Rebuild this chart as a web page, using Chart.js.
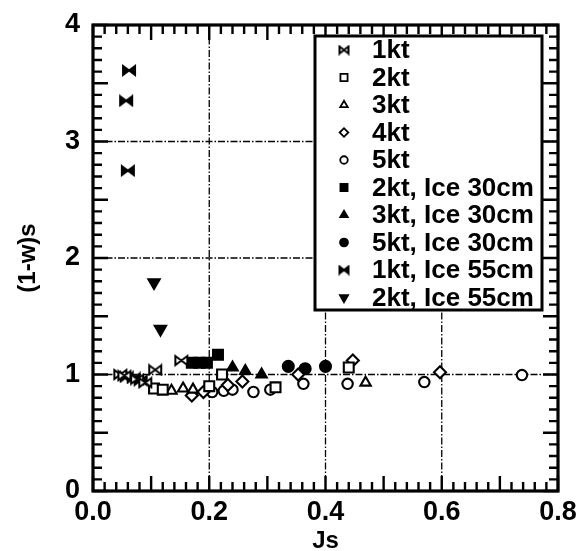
<!DOCTYPE html>
<html>
<head>
<meta charset="utf-8">
<script src="https://cdn.jsdelivr.net/npm/chart.js@4.4.1/dist/chart.umd.min.js"></script>
<style>
  html,body{margin:0;padding:0;background:#fff}
</style>
</head>
<body>
<canvas id="c" width="581" height="551"></canvas>
<script>
// ── Data (Js, (1-w)s) per condition ─────────────────────────────────────────
const kt1      = [[0.047,1.0],[0.054,0.99],[0.076,0.96],[0.09,0.93],[0.107,1.04],[0.152,1.12]];
const kt2      = [[0.105,0.88],[0.12,0.87],[0.2,0.9],[0.222,1.0],[0.314,0.89],[0.44,1.06]];
const kt3      = [[0.135,0.86],[0.155,0.88],[0.172,0.87],[0.469,0.93]];
const kt4      = [[0.17,0.82],[0.19,0.85],[0.232,0.91],[0.257,0.94],[0.353,1.0],[0.447,1.12],[0.597,1.02]];
const kt5      = [[0.205,0.85],[0.225,0.86],[0.24,0.87],[0.276,0.85],[0.305,0.87],[0.362,0.92],[0.438,0.92],[0.57,0.935],[0.738,0.995]];
const kt2ice30 = [[0.17,1.1],[0.183,1.1],[0.196,1.1],[0.215,1.17]];
const kt3ice30 = [[0.24,1.06],[0.262,1.03],[0.29,1.0]];
const kt5ice30 = [[0.336,1.07],[0.365,1.05],[0.4,1.07]];
const kt1ice55 = [[0.062,3.61],[0.057,3.35],[0.06,2.75],[0.058,0.98],[0.07,0.97],[0.082,0.95]];
const kt2ice55 = [[0.105,1.79],[0.116,1.39]];

const labels = ['1kt','2kt','3kt','4kt','5kt','2kt, Ice 30cm','3kt, Ice 30cm','5kt, Ice 30cm','1kt, Ice 55cm','2kt, Ice 55cm'];
const xTicks = [0, 0.2, 0.4, 0.6, 0.8];
const yTicks = [0, 1, 2, 3, 4];
const xGrid = [0.2, 0.4, 0.6];
const yGrid = [1, 2, 3];

const FONT = "'Liberation Sans', Arial, Helvetica, sans-serif";

// bow-tie marker drawn on a small canvas (open or filled)
function bowtie(w, h, filled) {
  const c = document.createElement('canvas');
  c.width = w + 4; c.height = h + 4;
  const g = c.getContext('2d');
  const x0 = 2, y0 = 2, cx = x0 + w / 2, cy = y0 + h / 2;
  g.lineWidth = 2; g.strokeStyle = '#000'; g.fillStyle = filled ? '#000' : '#fff';
  g.beginPath();
  g.moveTo(x0, y0); g.lineTo(cx, cy); g.lineTo(x0, y0 + h); g.closePath();
  g.moveTo(x0 + w, y0); g.lineTo(cx, cy); g.lineTo(x0 + w, y0 + h); g.closePath();
  g.fill(); g.stroke();
  return c;
}

const pts = a => a.map(p => ({x: p[0], y: p[1]}));
const series = [kt1, kt2, kt3, kt4, kt5, kt2ice30, kt3ice30, kt5ice30, kt1ice55, kt2ice55];
const styles = [
  {s: bowtie(12, 9, false), r: 6, fill: '#fff', lg: bowtie(9, 7, false)},
  {s: 'rect', r: 7, fill: '#fff'},
  {s: 'triangle', r: 6, fill: '#fff'},
  {s: 'rectRot', r: 6, fill: '#fff'},
  {s: 'circle', r: 5.2, fill: '#fff'},
  {s: 'rect', r: 7, fill: '#000'},
  {s: 'triangle', r: 6, fill: '#000'},
  {s: 'circle', r: 5.5, fill: '#000'},
  {s: bowtie(12, 9, true), r: 6, fill: '#000', lg: bowtie(9, 7, true)},
  {s: 'triangle', r: 6.5, fill: '#000', rot: 180},
];

const datasets = series.map((d, i) => ({
  label: labels[i], data: pts(d), showLine: false,
  pointStyle: styles[i].s, pointRadius: styles[i].r, pointHoverRadius: styles[i].r,
  pointRotation: styles[i].rot || 0,
  backgroundColor: styles[i].fill, borderColor: '#000', borderWidth: 2.1
}));

// ── frame, inward ticks, dash-dot grid, legend box ──────────────────────────
const framePlug = {
  id: 'framePlug',
  beforeDatasetsDraw(chart) {
    const {ctx, chartArea: a, scales: {x, y}} = chart;
    ctx.save();
    ctx.strokeStyle = '#000'; ctx.lineWidth = 1.3; ctx.setLineDash([7, 2, 1.5, 2]);
    ctx.beginPath();
    xGrid.forEach(v => { const px = x.getPixelForValue(v); ctx.moveTo(px, a.top); ctx.lineTo(px, a.bottom); });
    yGrid.forEach(v => { const py = y.getPixelForValue(v); ctx.moveTo(a.left, py); ctx.lineTo(a.right, py); });
    ctx.stroke();
    ctx.restore();
  },
  afterDatasetsDraw(chart) {
    const {ctx, chartArea: a, scales: {x, y}} = chart;
    ctx.save();
    ctx.strokeStyle = '#000'; ctx.lineWidth = 2.4; ctx.lineCap = 'butt';
    ctx.beginPath();
    for (let i = 0; i <= 40; i++) {
      const px = x.getPixelForValue(i * 0.02), L = i % 5 === 0 ? 15 : 9;
      ctx.moveTo(px, a.bottom); ctx.lineTo(px, a.bottom - L);
      ctx.moveTo(px, a.top); ctx.lineTo(px, a.top + L);
    }
    for (let i = 0; i <= 40; i++) {
      const py = y.getPixelForValue(i * 0.1), L = i % 5 === 0 ? 15 : 9;
      ctx.moveTo(a.left, py); ctx.lineTo(a.left + L, py);
      ctx.moveTo(a.right, py); ctx.lineTo(a.right - L, py);
    }
    ctx.stroke();
    ctx.lineWidth = 3.2;
    ctx.strokeRect(a.left, a.top, a.right - a.left, a.bottom - a.top);

    // legend
    const bx = 315, by = 36, bw = 227, bh = 274;
    ctx.fillStyle = '#fff'; ctx.fillRect(bx, by, bw, bh);
    ctx.lineWidth = 3; ctx.strokeStyle = '#000'; ctx.strokeRect(bx, by, bw, bh);
    ctx.font = 'bold 26px ' + FONT; ctx.textBaseline = 'middle';
    labels.forEach((t, i) => {
      const yy = by + 14 + i * 27.5, st = styles[i];
      ctx.fillStyle = st.fill; ctx.strokeStyle = '#000'; ctx.lineWidth = 1.8;
      Chart.helpers.drawPoint(ctx, {
        pointStyle: st.lg || st.s, radius: st.r * 0.72, rotation: st.rot || 0,
        borderWidth: 1.8
      }, 344, yy);
      ctx.fillStyle = '#000';
      ctx.fillText(t, 372, yy + 1);
    });
    ctx.restore();
  }
};

new Chart(document.getElementById('c'), {
  type: 'scatter',
  data: {datasets},
  plugins: [framePlug],
  options: {
    responsive: false, animation: false,
    layout: {padding: {left: 14, top: 25, right: 23, bottom: 0}},
    plugins: {legend: {display: false}, tooltip: {enabled: false}},
    scales: {
      x: {
        type: 'linear', min: 0, max: 0.8,
        afterBuildTicks: s => { s.ticks = xTicks.map(v => ({value: v})); },
        ticks: {callback: v => v.toFixed(1), color: '#000', font: {family: FONT, size: 27, weight: 'bold'}, padding: -3, maxRotation: 0},
        grid: {display: false}, border: {display: false},
        title: {display: true, text: 'Js', color: '#000', font: {family: FONT, size: 24, weight: 'bold'}, padding: {top: 0, bottom: -5}},
        afterFit: s => { s.height = 60; }
      },
      y: {
        min: 0, max: 4,
        afterBuildTicks: s => { s.ticks = yTicks.map(v => ({value: v})); },
        ticks: {callback: v => String(v), color: '#000', font: {family: FONT, size: 27, weight: 'bold'}, padding: 5},
        grid: {display: false}, border: {display: false},
        title: {display: true, text: '(1-w)s', color: '#000', font: {family: FONT, size: 24, weight: 'bold'}, padding: 0},
        afterFit: s => { s.width = 79; }
      }
    }
  }
});
</script>
</body>
</html>
